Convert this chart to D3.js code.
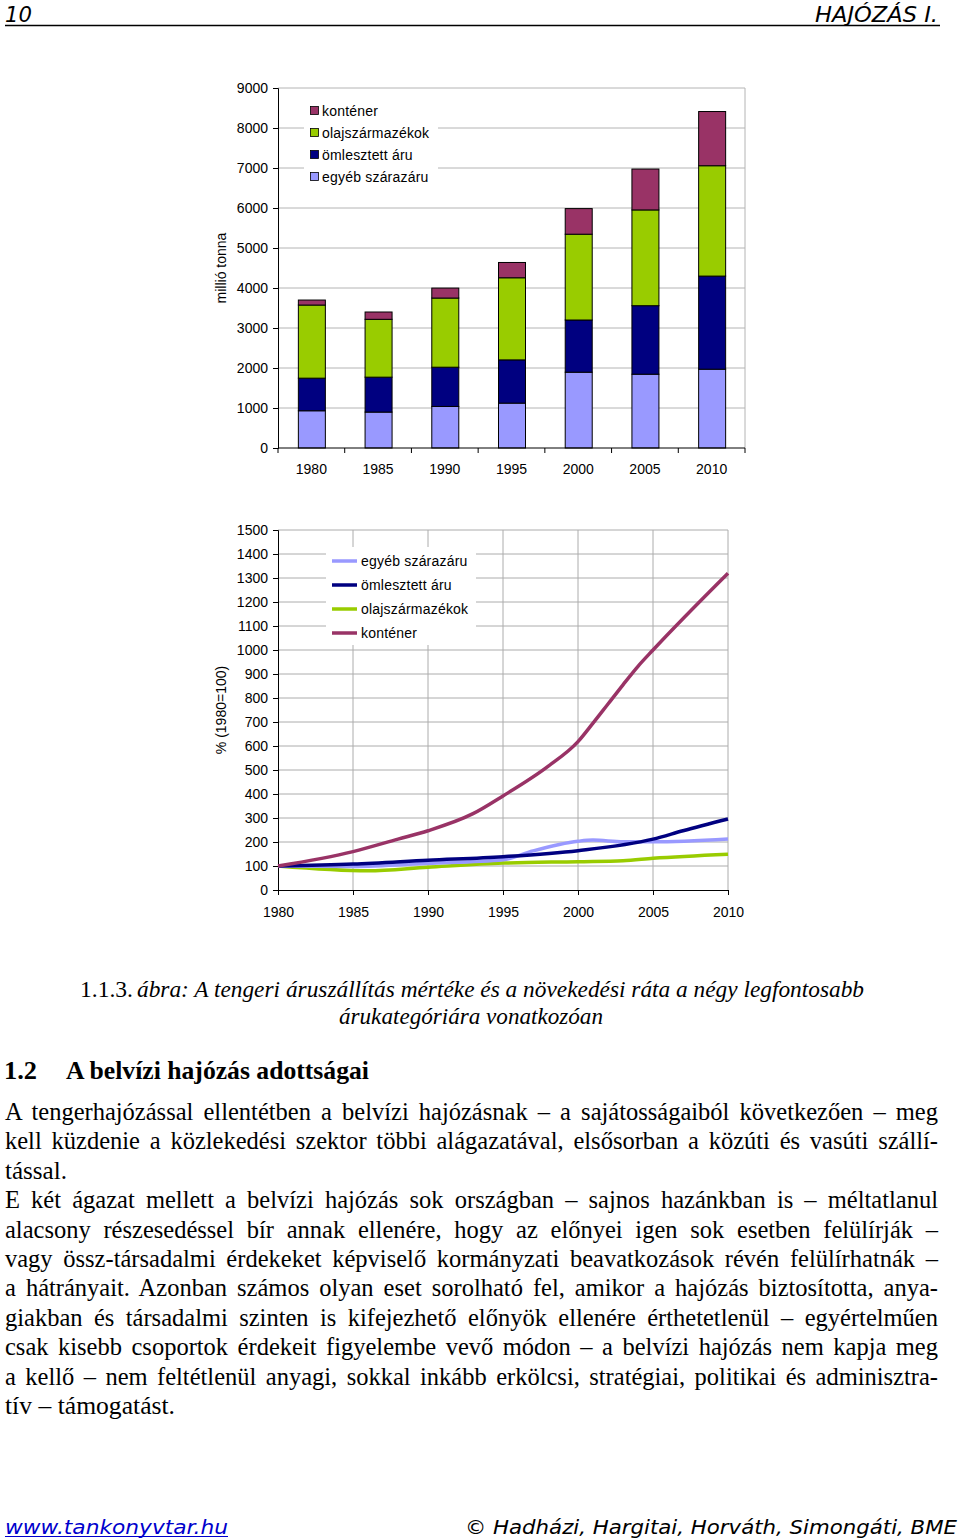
<!DOCTYPE html>
<html><head><meta charset="utf-8">
<script src="https://cdn.jsdelivr.net/npm/d3@7"></script>
<style>body{margin:0;background:#fff} svg{display:block}</style>
</head><body>
<svg id="page" width="960" height="1540"></svg>
<script>
// ---------- DATA: stacked bars (millió tonna) ----------
const barYears = ["1980","1985","1990","1995","2000","2005","2010"];
const egyeb      = [931, 898, 1039, 1122, 1895, 1845, 1970];
const omlesztett = [815, 873, 981, 1081, 1305, 1713, 2328];
const olaj       = [1828, 1446, 1729, 2053, 2145, 2394, 2759];
const kontener   = [125, 183, 249, 382, 640, 1022, 1355];
const barTicks   = [0,1000,2000,3000,4000,5000,6000,7000,8000,9000];

// ---------- DATA: growth index lines (1980=100) ----------
const egyebYears = [1980,1985,1990,1995,1997,2000,2001,2003,2005,2010];
const egyebIdx   = [100, 98, 111, 126, 163, 203, 208, 201, 201, 213];
const omlYears   = [1980,1985,1990,1995,2000,2005,2007,2010];
const omlIdx     = [100, 108, 124, 139, 164, 212, 247, 296];
const olajYears  = [1980,1986,1990,1995,2000,2003,2005,2010];
const olajIdx    = [100, 80, 95, 112, 118, 122, 132, 149];
const kontYears  = [1980,1985,1988,1990,1993,1995,1998,2000,2001,2002,2003,2004,2005,2010];
const kontIdx    = [100, 160, 212, 247, 318, 392, 515, 618, 695, 775, 855, 932, 1000, 1320];
const lineYTicks = [0,100,200,300,400,500,600,700,800,900,1000,1100,1200,1300,1400,1500];
const lineXTicks = [1980,1985,1990,1995,2000,2005,2010];

const seriesNames = ["egyéb szárazáru","ömlesztett áru","olajszármazékok","konténer"];
const seriesColors = ["#9999FF","#000080","#99CC00","#993366"];

const svg = d3.select("#page");
const AX = "'Liberation Sans', Arial, sans-serif";
const SERIF = "'Liberation Serif', 'Times New Roman', serif";
const SANS = "'DejaVu Sans', Verdana, sans-serif";

// ================= TOP CHART =================
(function(){
  const L=278, R=745, T=88, B=448;
  const keys = ["egyeb","oml","olaj","kont"];
  const table = barYears.map((y,i)=>({year:y, egyeb:egyeb[i], oml:omlesztett[i], olaj:olaj[i], kont:kontener[i]}));
  const stacked = d3.stack().keys(keys)(table);
  const x = d3.scaleBand().domain(barYears).range([L,R]).padding(0);
  const y = d3.scaleLinear().domain([0,9000]).range([B,T]);
  const g = svg.append("g");
  g.selectAll("line.grid").data(barTicks.filter(d=>d>0)).join("line")
    .attr("x1",L).attr("x2",R).attr("y1",d=>y(d)).attr("y2",d=>y(d))
    .attr("stroke","#b4b4b4").attr("stroke-width",1);
  g.append("line").attr("x1",R).attr("x2",R).attr("y1",T).attr("y2",B).attr("stroke","#b4b4b4");
  const lg = g.append("g");
  lg.append("rect").attr("x",304).attr("y",100).attr("width",134).attr("height",88).attr("fill","#fff");
  const legOrder = [3,2,1,0];
  legOrder.forEach((si,k)=>{
    const yy = 111 + k*22;
    lg.append("rect").attr("x",310.5).attr("y",yy-4.5).attr("width",8).attr("height",8)
      .attr("fill",seriesColors[si]).attr("stroke","#000").attr("stroke-width",0.8);
    lg.append("text").attr("x",322).attr("y",yy).attr("dy","0.36em")
      .attr("font-family",AX).attr("font-size",14).attr("letter-spacing",0.2).attr("fill","#000").text(seriesNames[si]);
  });
  const bw = 27;
  g.selectAll("g.layer").data(stacked).join("g").attr("fill",(d,i)=>seriesColors[i])
    .selectAll("rect").data(d=>d).join("rect")
    .attr("x",d=>x(d.data.year)+x.bandwidth()/2-bw/2+0.5)
    .attr("width",bw)
    .attr("y",d=>y(d[1])).attr("height",d=>y(d[0])-y(d[1]))
    .attr("stroke","#000").attr("stroke-width",1);
  const ya = d3.axisLeft(y).tickValues(barTicks).tickSize(5).tickPadding(5).tickFormat(d3.format("d"));
  const yg = g.append("g").attr("transform",`translate(${L},0)`).call(ya);
  yg.select(".domain").attr("stroke","#000");
  yg.selectAll("text").attr("font-family",AX).attr("font-size",14).attr("fill","#000");
  const xa = d3.axisBottom(x).tickSize(0).tickPadding(16);
  const xg = g.append("g").attr("transform",`translate(0,${B})`).call(xa);
  xg.select(".domain").attr("stroke","#000").attr("d",`M${L},0H${R}`);
  xg.selectAll("text").attr("font-family",AX).attr("font-size",14).attr("fill","#000");
  xg.selectAll("line.bt").data(barYears.concat(["end"])).join("line")
    .attr("x1",(d,i)=>L+i*x.step()).attr("x2",(d,i)=>L+i*x.step())
    .attr("y1",0).attr("y2",5).attr("stroke","#000");
  g.append("text").attr("transform",`translate(226,${(T+B)/2}) rotate(-90)`)
    .attr("text-anchor","middle").attr("font-family",AX).attr("font-size",14).text("millió tonna");
})();

// ================= LINE CHART =================
(function(){
  const L=278, R=728, T=530, B=890;
  const x = d3.scaleLinear().domain([1980,2010]).range([L,R]);
  const y = d3.scaleLinear().domain([0,1500]).range([B,T]);
  const g = svg.append("g");
  g.selectAll("line.hg").data(lineYTicks.filter(d=>d>0)).join("line")
    .attr("x1",L).attr("x2",R).attr("y1",d=>y(d)).attr("y2",d=>y(d))
    .attr("stroke","#acacac");
  g.selectAll("line.vg").data(lineXTicks.filter(d=>d>1980)).join("line")
    .attr("x1",d=>x(d)).attr("x2",d=>x(d)).attr("y1",T).attr("y2",B)
    .attr("stroke","#acacac");
  const lg = g.append("g");
  lg.append("rect").attr("x",326).attr("y",547).attr("width",150).attr("height",98).attr("fill","#fff");
  [0,1,2,3].forEach(k=>{
    const yy = 561 + k*24;
    lg.append("line").attr("x1",332).attr("x2",357).attr("y1",yy).attr("y2",yy)
      .attr("stroke",seriesColors[k]).attr("stroke-width",3.5);
    lg.append("text").attr("x",361).attr("y",yy).attr("dy","0.36em")
      .attr("font-family",AX).attr("font-size",14).attr("letter-spacing",0.2).text(seriesNames[k]);
  });
  const ya = d3.axisLeft(y).tickValues(lineYTicks).tickSize(5).tickPadding(5).tickFormat(d3.format("d"));
  const yg = g.append("g").attr("transform",`translate(${L},0)`).call(ya);
  yg.selectAll("text").attr("font-family",AX).attr("font-size",14).attr("fill","#000");
  const xa = d3.axisBottom(x).tickValues(lineXTicks).tickSize(5).tickPadding(12).tickFormat(d3.format("d"));
  const xg = g.append("g").attr("transform",`translate(0,${B})`).call(xa);
  xg.selectAll("text").attr("font-family",AX).attr("font-size",14).attr("fill","#000");
  const sets = [[egyebYears,egyebIdx],[omlYears,omlIdx],[olajYears,olajIdx],[kontYears,kontIdx]];
  const line = d3.line().x(d=>x(d[0])).y(d=>y(d[1])).curve(d3.curveMonotoneX);
  const drawOrder = [2,0,1,3];
  drawOrder.forEach(k=>{
    const pts = sets[k][0].map((yr,i)=>[yr,sets[k][1][i]]);
    g.append("path").attr("d",line(pts)).attr("fill","none")
      .attr("stroke",seriesColors[k]).attr("stroke-width",3.5).attr("stroke-linejoin","round");
  });
  g.append("text").attr("transform",`translate(226,${(T+B)/2}) rotate(-90)`)
    .attr("text-anchor","middle").attr("font-family",AX).attr("font-size",14).text("% (1980=100)");
})();

// ================= PAGE TEXT =================
function fitText(sel, width){
  sel.attr("textLength",width).attr("lengthAdjust","spacingAndGlyphs");
}
function justify(t, target, isFull){
  const nat = t.node().getComputedTextLength();
  const spaces = (t.text().match(/ /g)||[]).length;
  if (isFull && nat < target && spaces>0) t.attr("word-spacing",(target-nat)/spaces);
  else t.attr("textLength",target).attr("lengthAdjust","spacingAndGlyphs");
}
// header
svg.append("text").attr("x",5).attr("y",22).attr("font-family",SANS).attr("font-style","italic")
  .attr("font-size",21).text("10").call(s=>fitText(s,27));
svg.append("text").attr("x",815).attr("y",22).attr("font-family",SANS).attr("font-style","italic")
  .attr("font-size",21).text("HAJÓZÁS I.").call(s=>fitText(s,123));
svg.append("line").attr("x1",5).attr("x2",940).attr("y1",25.5).attr("y2",25.5).attr("stroke","#000").attr("stroke-width",1.5);

// caption
svg.append("text").attr("x",80).attr("y",997).attr("font-family",SERIF).attr("font-size",24)
  .text("1.1.3.").call(s=>fitText(s,53));
svg.append("text").attr("x",137).attr("y",997).attr("font-family",SERIF).attr("font-size",24).attr("font-style","italic")
  .text("ábra: A tengeri áruszállítás mértéke és a növekedési ráta a négy legfontosabb").call(s=>fitText(s,727));
svg.append("text").attr("x",339).attr("y",1024).attr("font-family",SERIF).attr("font-size",24).attr("font-style","italic")
  .text("árukategóriára vonatkozóan").call(s=>fitText(s,264));

// section title
svg.append("text").attr("x",4).attr("y",1079).attr("font-family",SERIF).attr("font-size",25).attr("font-weight","bold")
  .text("1.2").call(s=>fitText(s,33));
svg.append("text").attr("x",66).attr("y",1079).attr("font-family",SERIF).attr("font-size",25).attr("font-weight","bold")
  .text("A belvízi hajózás adottságai").call(s=>fitText(s,303));

// body
const bodyLines = [
  ["A tengerhajózással ellentétben a belvízi hajózásnak – a sajátosságaiból következően – meg", true],
  ["kell küzdenie a közlekedési szektor többi alágazatával, elsősorban a közúti és vasúti szállí-", true],
  ["tással.", false, 62],
  ["E két ágazat mellett a belvízi hajózás sok országban – sajnos hazánkban is – méltatlanul", true],
  ["alacsony részesedéssel bír annak ellenére, hogy az előnyei igen sok esetben felülírják –", true],
  ["vagy össz-társadalmi érdekeket képviselő kormányzati beavatkozások révén felülírhatnák –", true],
  ["a hátrányait. Azonban számos olyan eset sorolható fel, amikor a hajózás biztosította, anya-", true],
  ["giakban és társadalmi szinten is kifejezhető előnyök ellenére érthetetlenül – egyértelműen", true],
  ["csak kisebb csoportok érdekeit figyelembe vevő módon – a belvízi hajózás nem kapja meg", true],
  ["a kellő – nem feltétlenül anyagi, sokkal inkább erkölcsi, stratégiai, politikai és adminisztra-", true],
  ["tív – támogatást.", false, 170]
];
bodyLines.forEach((ln,i)=>{
  const t = svg.append("text").attr("x",5).attr("y",1120 + i*29.4)
    .attr("font-family",SERIF).attr("font-size",24.5).attr("fill","#000").text(ln[0]);
  justify(t, ln[1] ? 933 : ln[2], ln[1]);
});

// footer
const link = svg.append("text").attr("x",5).attr("y",1534).attr("font-family",SANS).attr("font-style","italic")
  .attr("font-size",20).attr("fill","#0000cc").text("www.tankonyvtar.hu");
fitText(link,223);
svg.append("line").attr("x1",5).attr("x2",228).attr("y1",1536.5).attr("y2",1536.5).attr("stroke","#0000cc").attr("stroke-width",1.2);
svg.append("text").attr("x",465).attr("y",1534).attr("font-family",SANS).attr("font-style","italic")
  .attr("font-size",20).attr("fill","#000").text("© Hadházi, Hargitai, Horváth, Simongáti, BME").call(s=>fitText(s,492));
</script>
</body></html>
